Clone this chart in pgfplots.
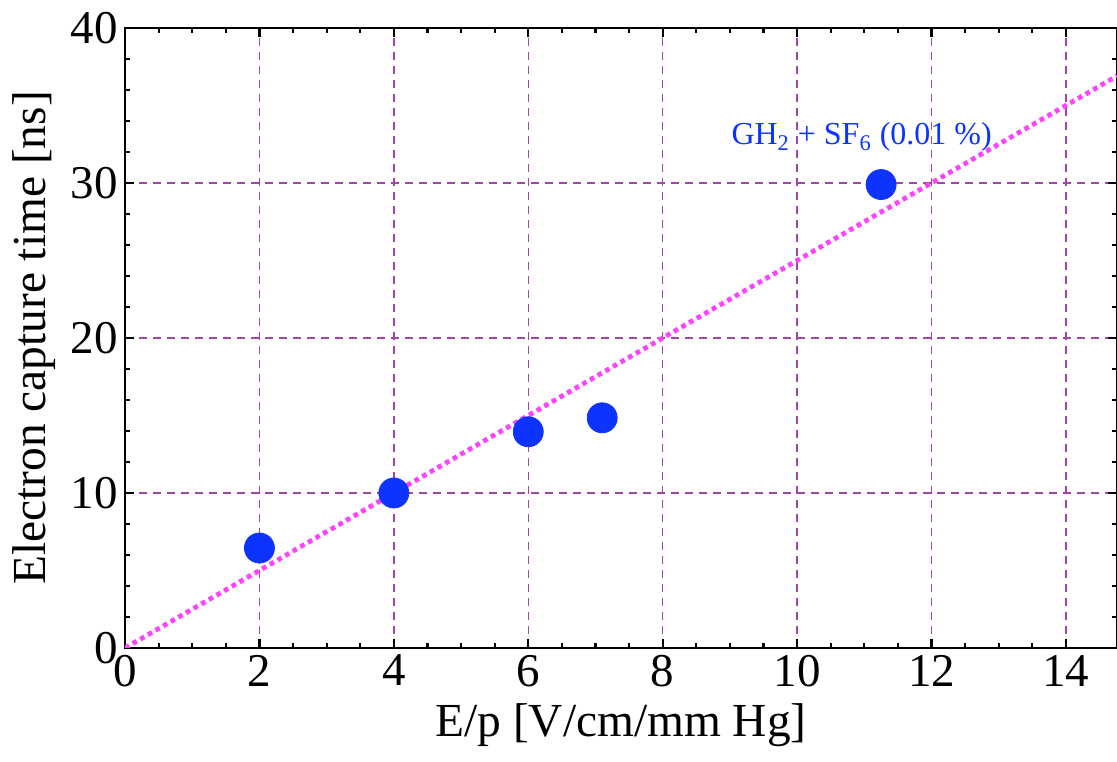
\documentclass[border=0pt]{standalone}
\usepackage{fontspec}
\setmainfont{Liberation Serif}
\usepackage{pgfplots}
\pgfplotsset{compat=1.18}
\usetikzlibrary{calc}
\definecolor{gridpurple}{RGB}{160,70,165}
\definecolor{ptblue}{RGB}{13,51,255}
\definecolor{fitmag}{RGB}{255,68,255}

\begin{document}
\begin{tikzpicture}
\begin{axis}[
  scale only axis, width=496pt, height=310pt,
  xmin=0, xmax=14.76, ymin=0, ymax=40,
  xtick={0,2,...,14}, ytick={0,10,...,40},
  minor x tick num=3, minor y tick num=4,
  tick align=inside, major tick length=4.5pt, minor tick length=2.5pt,
  tick style={black, line width=1.1pt},
  axis line style={line width=1.4pt},
  grid=major,
  major grid style={gridpurple, dash pattern=on 4pt off 3pt, line width=0.75pt},
  ticklabel style={font=\fontsize{23.5}{26}\selectfont},
  /pgf/number format/assume math mode=true,
  xlabel={E/p [V/cm/mm Hg]},
  ylabel={Electron capture time [ns]},
  label style={font=\fontsize{23.7}{26}\selectfont},
  xlabel style={at={(axis description cs:0.5,-0.1242)}, anchor=center},
  ylabel style={at={(axis description cs:-0.0917,0.5)}, anchor=center},
]
% measured capture times
\addplot[only marks, mark=*, mark size=7.5pt, color=ptblue,
  mark options={draw=ptblue, fill=ptblue}] coordinates {
  (2,6.45) (4,10) (6,13.95) (7.1,14.85) (11.25,29.9)
};
% linear fit through the origin
\addplot[fitmag, line width=2.4pt, dash pattern=on 2.4pt off 2pt]
  coordinates {(0,0) (14.76,36.9)};
\node[text=ptblue, font=\fontsize{16}{18}\selectfont]
  at (axis cs:10.96,32.95) {GH\textsubscript{2} + SF\textsubscript{6} (0.01 \%)};
\coordinate (bl) at (rel axis cs:0,0);
\coordinate (tr) at (rel axis cs:1,1);
\end{axis}
\pgfresetboundingbox
\useasboundingbox ($(bl)+(-62.5pt,-57pt)$) rectangle ($(tr)+(0,14pt)$);
\end{tikzpicture}
\end{document}
